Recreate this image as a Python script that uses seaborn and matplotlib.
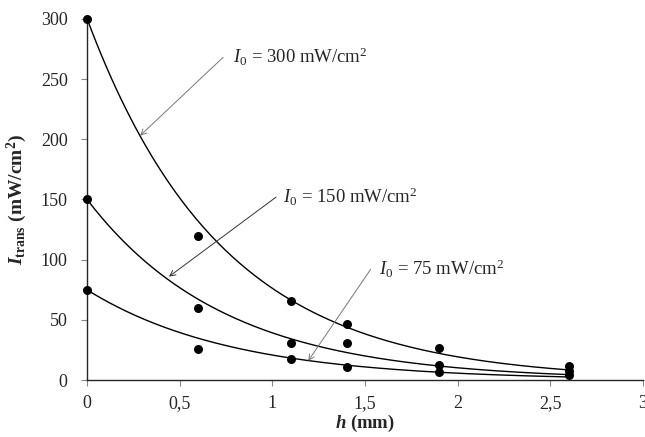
import numpy as np
import pandas as pd
import seaborn as sns
import matplotlib.pyplot as plt
from matplotlib.ticker import FuncFormatter

# measured transmitted intensity vs. thickness
h_mm = [0, 0.6, 1.1, 1.4, 1.9, 2.6]
i_300 = [300, 120, 66, 47, 27, 12]
i_150 = [150, 60, 30.5, 31, 12.5, 8]
i_75 = [75, 25.5, 17.5, 11, 6.9, 4.2]
i0_levels = [300, 150, 75]
# attenuation coefficients of the exponential curves (1/mm)
k_fit = [1.37, 1.34, 1.28]

sns.set_style('ticks')
plt.rcParams['font.family'] = ['Liberation Serif', 'DejaVu Serif']
plt.rcParams['mathtext.fontset'] = 'custom'
plt.rcParams['mathtext.rm'] = 'Liberation Serif'
plt.rcParams['mathtext.it'] = 'Liberation Serif:italic'
plt.rcParams['mathtext.bf'] = 'Liberation Serif:bold'
plt.rcParams['mathtext.bfit'] = 'Liberation Serif:italic:bold'

df = pd.DataFrame({'h': h_mm * 3,
                   'I': i_300 + i_150 + i_75,
                   'I0': sum([[v] * len(h_mm) for v in i0_levels], [])})

fig = plt.figure(figsize=(6.45, 4.37), dpi=100)
ax = fig.add_axes([0.135, 0.130, 0.862, 0.827])

hh = np.linspace(0, 2.6, 200)
for i0, k in zip(i0_levels, k_fit):
    sns.lineplot(x=hh, y=i0 * np.exp(-k * hh), color='black', lw=1.0, ax=ax)

sns.scatterplot(data=df, x='h', y='I', color='black', s=42, edgecolor='black',
                linewidth=0, zorder=5, clip_on=False, ax=ax)

ax.set_xlim(0, 3)
ax.set_ylim(0, 300)
ax.set_xticks([0, 0.5, 1, 1.5, 2, 2.5, 3])
ax.set_yticks([0, 50, 100, 150, 200, 250, 300])
ax.xaxis.set_major_formatter(FuncFormatter(lambda v, p: f'{v:g}'.replace('.', ',')))
ax.tick_params(labelsize=13, length=4, width=0.8, color='#888888')
ax.tick_params(axis='y', pad=10)
ax.tick_params(axis='x', pad=7)
sns.despine(ax=ax)
ax.spines['left'].set_linewidth(1.0)
ax.spines['bottom'].set_linewidth(1.0)
ax.set_xlabel(r'$\mathbfit{h}$ (mm)', fontsize=13.5, fontweight='bold', labelpad=0)
ax.set_ylabel(r'$\mathbfit{I}_{\mathbf{trans}}$ (mW/cm$^\mathbf{2}$)', fontsize=14,
              fontweight='bold')
ax.yaxis.set_label_coords(-0.105, 0.5)

arrow_kw = dict(arrowstyle='->', lw=0.7, shrinkA=0, shrinkB=0)
ax.annotate('', xy=(0.286, 203), xytext=(0.734, 268),
            arrowprops=dict(color='#777777', **arrow_kw))
ax.text(0.79, 268, r'$I_0$ = 300 mW/cm$^2$', fontsize=13.5, va='center')
ax.annotate('', xy=(0.442, 86), xytext=(1.02, 152),
            arrowprops=dict(color='#333333', **arrow_kw))
ax.text(1.055, 152, r'$I_0$ = 150 mW/cm$^2$', fontsize=13.5, va='center')
ax.annotate('', xy=(1.193, 16), xytext=(1.53, 92),
            arrowprops=dict(color='#777777', **arrow_kw))
ax.text(1.575, 92, r'$I_0$ = 75 mW/cm$^2$', fontsize=13.5, va='center')

fig.savefig('out.png', dpi=100)
